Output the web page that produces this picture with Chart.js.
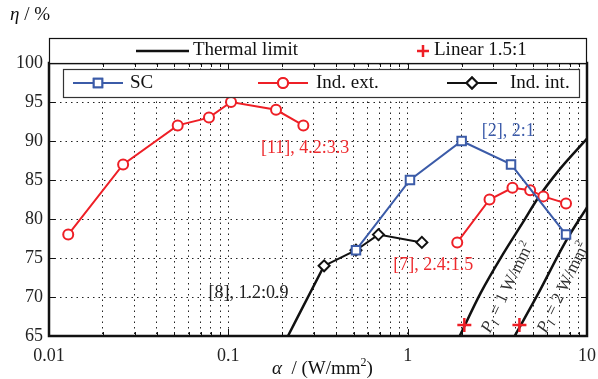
<!DOCTYPE html>
<html>
<head>
<meta charset="utf-8">
<script src="https://cdn.jsdelivr.net/npm/chart.js@4.4.0/dist/chart.umd.min.js"></script>
<style>
html, body { margin: 0; padding: 0; background: #fff; }
canvas { display: block; }
</style>
</head>
<body>
<canvas id="myChart" width="598" height="379"></canvas>
<script>
// values (alpha in W/mm2, eta in %)
const scAlpha = [0.515, 1.03, 2.0, 3.77, 7.64];
const scEta = [76, 85, 90, 87, 78];

const ext11Alpha = [0.0128, 0.0259, 0.0522, 0.078, 0.1035, 0.1845, 0.262];
const ext11Eta = [78, 87, 92, 93, 95, 94, 92];
const ext7Alpha = [1.89, 2.86, 3.84, 4.82, 5.71, 7.64];
const ext7Eta = [77, 82.5, 84, 83.7, 82.9, 82];

const intAlpha = [0.342, 0.515, 0.687, 1.2];
const intEta = [74, 76, 78, 77];

const th8Alpha = [0.215, 0.342];
const th8Eta = [65, 74];
const th1Alpha = [1.95, 2.55, 3.4, 4.4, 5.3, 7, 10];
const th1Eta = [65, 70.5, 75.5, 79.6, 82.6, 86.3, 90.3];
const th2Alpha = [3.95, 5.25, 7.64, 10];
const th2Eta = [65, 70.1, 77.2, 81.5];

const linAlpha = [2.07, 4.2];
const linEta = [66.4, 66.4];

const xMajors = [0.01, 0.1, 1, 10];
const xTickLabels = ['0.01', '0.1', '1', '10'];

// text notes anchored in data space
const notes = [
    { text: '[11], 4.2:3.3', a: 0.152, e: 89.1, color: '#ee2a2e' },
    { text: '[2], 2:1', a: 2.59, e: 91.3, color: '#3d5caa' },
    { text: '[7], 2.4:1.5', a: 0.83, e: 74.1, color: '#ee2a2e' },
    { text: '[8], 1.2:0.9', a: 0.0775, e: 70.5, color: '#222' }
];
const powerNotes = [
    { num: '1', a: 2.88, e: 65.3 },
    { num: '2', a: 5.91, e: 65.3 }
];

const RED = '#ee1f26';
const BLUE = '#3b5ba8';
const BLACK = '#111';
const FONT = '"Liberation Serif", "Times New Roman", serif';

let xTicks = [];
for (let d = 0; d < 3; d++) {
    for (let m = 1; m < 10; m++) {
        xTicks.push(Number((xMajors[d] * m).toPrecision(2)));
    }
}
xTicks.push(10);

function pts(xs, ys) {
    return xs.map((v, i) => ({ x: v, y: ys[i] }));
}

const thermalStyle = {
    borderColor: BLACK, borderWidth: 2.5, pointRadius: 0, fill: false, order: 5,
    cubicInterpolationMode: 'monotone'
};

function drawRich(ctx, parts, x, y) {
    for (const p of parts) {
        ctx.font = p.font;
        ctx.fillText(p.t, x, y + (p.dy || 0));
        x += ctx.measureText(p.t).width + (p.gap || 0);
    }
}

const overlay = {
    id: 'overlay',
    afterDraw(chart) {
        const ctx = chart.ctx;
        const a = chart.chartArea;
        const x = chart.scales.x, y = chart.scales.y;
        ctx.save();

        // inward tick marks
        ctx.strokeStyle = BLACK;
        ctx.lineWidth = 1;
        ctx.beginPath();
        xTicks.forEach(v => {
            const px = Math.round(x.getPixelForValue(v)) + 0.5;
            const len = xMajors.includes(v) ? 7 : 4;
            ctx.moveTo(px, a.bottom); ctx.lineTo(px, a.bottom - len);
            ctx.moveTo(px, a.top); ctx.lineTo(px, a.top + len);
        });
        for (let v = 65; v <= 100; v += 5) {
            const py = Math.round(y.getPixelForValue(v)) + 0.5;
            ctx.moveTo(a.left, py); ctx.lineTo(a.left + 6, py);
            ctx.moveTo(a.right, py); ctx.lineTo(a.right - 6, py);
        }
        ctx.stroke();

        // frame
        ctx.lineWidth = 2.5;
        ctx.strokeRect(a.left, a.top, a.right - a.left, a.bottom - a.top);

        // top legend box
        ctx.fillStyle = '#fff';
        ctx.lineWidth = 1.2;
        ctx.fillRect(a.left, 38, a.right - a.left, a.top - 38);
        ctx.strokeRect(a.left + 0.5, 38.5, a.right - a.left - 1, a.top - 38);
        ctx.textBaseline = 'middle';
        ctx.fillStyle = BLACK;
        ctx.font = '19px ' + FONT;
        ctx.lineWidth = 2.5;
        ctx.beginPath(); ctx.moveTo(136, 51); ctx.lineTo(189, 51); ctx.stroke();
        ctx.fillText('Thermal limit', 193, 50);
        ctx.strokeStyle = RED;
        ctx.beginPath();
        ctx.moveTo(417, 51); ctx.lineTo(429, 51);
        ctx.moveTo(423, 45); ctx.lineTo(423, 57);
        ctx.stroke();
        ctx.fillText('Linear 1.5:1', 434, 50);

        // inner legend box
        ctx.fillStyle = '#fff';
        ctx.fillRect(63, 69, 516, 28);
        ctx.strokeStyle = '#333';
        ctx.lineWidth = 1.2;
        ctx.strokeRect(63.5, 69.5, 516, 28);
        const items = [
            { x0: 73, x1: 123, label: 'SC', tx: 130, ds: 0 },
            { x0: 258, x1: 308, label: 'Ind. ext.', tx: 316, ds: 1 },
            { x0: 447, x1: 497, label: 'Ind. int.', tx: 510, ds: 3 }
        ];
        items.forEach(it => {
            const d = chart.data.datasets[it.ds];
            ctx.strokeStyle = d.borderColor;
            ctx.lineWidth = 2;
            ctx.beginPath(); ctx.moveTo(it.x0, 83); ctx.lineTo(it.x1, 83); ctx.stroke();
            Chart.helpers.drawPoint(ctx, {
                pointStyle: d.pointStyle, radius: d.pointRadius, borderWidth: d.pointBorderWidth
            }, (it.x0 + it.x1) / 2, 83);
            ctx.fillStyle = '#fff';
            ctx.fill();
            ctx.stroke();
            ctx.fillStyle = BLACK;
            ctx.font = '19px ' + FONT;
            ctx.fillText(it.label, it.tx, 83);
        });

        // notes
        ctx.font = '18px ' + FONT;
        notes.forEach(n => {
            ctx.fillStyle = n.color;
            ctx.fillText(n.text, x.getPixelForValue(n.a), y.getPixelForValue(n.e));
        });

        // rotated power labels
        ctx.fillStyle = '#333';
        ctx.textBaseline = 'alphabetic';
        powerNotes.forEach(n => {
            ctx.save();
            ctx.translate(x.getPixelForValue(n.a), y.getPixelForValue(n.e));
            ctx.rotate(-64 * Math.PI / 180);
            drawRich(ctx, [
                { t: 'P', font: 'italic 17px ' + FONT },
                { t: 'l', font: 'italic 12px ' + FONT, dy: 4, gap: 1 },
                { t: ' = ' + n.num + ' W/mm', font: '17px ' + FONT },
                { t: '2', font: '11px ' + FONT, dy: -7 }
            ], 0, 0);
            ctx.restore();
        });

        // axis titles
        ctx.fillStyle = BLACK;
        ctx.textBaseline = 'middle';
        drawRich(ctx, [
            { t: '\u03b7', font: 'italic 19px ' + FONT },
            { t: ' / %', font: '19px ' + FONT }
        ], 10, 15);
        drawRich(ctx, [
            { t: '\u03b1', font: 'italic 19px ' + FONT },
            { t: '  / (W/mm', font: '19px ' + FONT },
            { t: '2', font: '12px ' + FONT, dy: -6 },
            { t: ')', font: '19px ' + FONT }
        ], 272, 369);

        ctx.restore();
    }
};

const ctx = document.getElementById('myChart');

const chart = new Chart(ctx, {
    type: 'line',
    data: {
        datasets: [{
            label: 'SC',
            data: pts(scAlpha, scEta),
            borderColor: BLUE, borderWidth: 2,
            pointStyle: 'rect', pointRadius: 6, pointBorderWidth: 2,
            pointBackgroundColor: '#fff', pointBorderColor: BLUE,
            order: 1
        }, {
            label: 'Ind. ext.',
            data: pts(ext11Alpha, ext11Eta),
            borderColor: RED, borderWidth: 2,
            pointStyle: 'circle', pointRadius: 5, pointBorderWidth: 2,
            pointBackgroundColor: '#fff', pointBorderColor: RED,
            order: 2
        }, {
            label: 'Ind. ext. [7]',
            data: pts(ext7Alpha, ext7Eta),
            borderColor: RED, borderWidth: 2,
            pointStyle: 'circle', pointRadius: 5, pointBorderWidth: 2,
            pointBackgroundColor: '#fff', pointBorderColor: RED,
            order: 2
        }, {
            label: 'Ind. int.',
            data: pts(intAlpha, intEta),
            borderColor: BLACK, borderWidth: 2,
            pointStyle: 'rectRot', pointRadius: 5.5, pointBorderWidth: 2,
            pointBackgroundColor: '#fff', pointBorderColor: BLACK,
            order: 3
        },
        Object.assign({ label: 'Thermal limit [8]', data: pts(th8Alpha, th8Eta) }, thermalStyle),
        Object.assign({ label: 'Thermal limit 1', data: pts(th1Alpha, th1Eta) }, thermalStyle),
        Object.assign({ label: 'Thermal limit 2', data: pts(th2Alpha, th2Eta) }, thermalStyle),
        {
            label: 'Linear 1.5:1',
            data: pts(linAlpha, linEta),
            showLine: false,
            pointStyle: 'cross', pointRadius: 7, pointBorderWidth: 2.5,
            pointBorderColor: RED, borderColor: RED,
            order: 0
        }]
    },
    options: {
        responsive: false,
        animation: false,
        devicePixelRatio: 1,
        layout: { padding: { top: 63, right: 0, left: 0, bottom: 0 } },
        plugins: { legend: { display: false }, tooltip: { enabled: false } },
        scales: {
            x: {
                type: 'logarithmic',
                min: 0.01, max: 10,
                afterBuildTicks: (s) => { s.ticks = xTicks.map(v => ({ value: v, major: xMajors.includes(v) })); },
                afterFit: (s) => { s.height = 43; s.paddingRight = 11; },
                ticks: {
                    autoSkip: false, maxRotation: 0, padding: 9,
                    color: '#222', font: { family: FONT, size: 18 },
                    callback: (v) => { const i = xMajors.indexOf(v); return i >= 0 ? xTickLabels[i] : ''; }
                },
                grid: { color: '#222', lineWidth: 1, drawTicks: false },
                border: { display: false, dash: [1.5, 4] }
            },
            y: {
                min: 65, max: 100,
                afterFit: (s) => { s.width = 49; },
                ticks: {
                    stepSize: 5, padding: 6,
                    color: '#222', font: { family: FONT, size: 18 }
                },
                grid: { color: '#222', lineWidth: 1, drawTicks: false },
                border: { display: false, dash: [1.5, 4] }
            }
        }
    },
    plugins: [overlay]
});
</script>
</body>
</html>
